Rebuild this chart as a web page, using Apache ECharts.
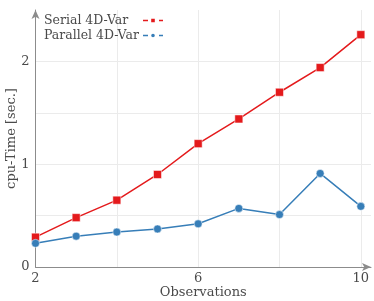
<!DOCTYPE html>
<html><head><meta charset="utf-8">
<script src="https://cdn.jsdelivr.net/npm/echarts@6/dist/echarts.min.js"></script>
<style>html,body{margin:0;padding:0;background:#fff}#c{width:374px;height:301px}</style>
</head><body><div id="c"></div>
<script>
var observations = [2, 3, 4, 5, 6, 7, 8, 9, 10];
var serial = [0.29, 0.48, 0.65, 0.90, 1.20, 1.44, 1.70, 1.94, 2.26];
var parallel = [0.23, 0.30, 0.34, 0.37, 0.42, 0.57, 0.51, 0.91, 0.59];
var xTickLabels = [2, 6, 10];
var yTickLabels = [0, 1, 2];
var seriesNames = ['Serial 4D-Var', 'Parallel 4D-Var'];

var FONT = 'DejaVu Serif';
var chart = echarts.init(document.getElementById('c'), null, {renderer: 'canvas'});
function pairs(xs, ys){ return xs.map(function(x,i){return [x, ys[i]];}); }
var axisCol = '#8c8c8c';
chart.setOption({
  animation: false,
  grid: {left: 35.5, right: 3, top: 10, bottom: 34, outerBoundsMode: 'none', containLabel: false},
  legend: {
    left: 39, top: 9, orient: 'vertical', align: 'right', itemGap: 2,
    itemWidth: 20, itemHeight: 7,
    formatter: '{t|{name}}',
    textStyle: {fontFamily: FONT, fontSize: 12.5, color: '#4a4a4a',
      rich: {t: {fontFamily: FONT, fontSize: 12.5, color: '#4a4a4a', width: 94, align: 'left'}}},
    data: [
      {name: seriesNames[0], lineStyle: {type: [5, 3], width: 1.5}},
      {name: seriesNames[1], lineStyle: {type: [5, 3], width: 1.5}}
    ]
  },
  xAxis: {
    type: 'value', min: 2, max: 10.25, interval: 2,
    name: 'Observations', nameLocation: 'middle', nameGap: 19, nameMoveOverlap: false,
    nameTextStyle: {fontFamily: FONT, fontSize: 13, color: '#4a4a4a'},
    axisLine: {show: true, lineStyle: {color: axisCol, width: 1}, symbol: ['none', 'arrow'], symbolSize: [6, 9]},
    axisTick: {show: false},
    axisLabel: {fontFamily: FONT, fontSize: 13, color: '#4a4a4a', margin: 5,
      formatter: function(v){ return xTickLabels.indexOf(v) >= 0 ? String(v) : ''; }},
    splitLine: {show: true, showMinLine: false, showMaxLine: false, lineStyle: {color: '#ebebeb', width: 1}}
  },
  yAxis: {
    type: 'value', min: 0, max: 2.5, interval: 0.5,
    name: 'cpu-Time [sec.]', nameLocation: 'middle', nameGap: 17, nameRotate: 90, nameMoveOverlap: false,
    nameTextStyle: {fontFamily: FONT, fontSize: 13, color: '#4a4a4a'},
    axisLine: {show: true, lineStyle: {color: axisCol, width: 1}, symbol: ['none', 'arrow'], symbolSize: [6, 9]},
    axisTick: {show: false},
    axisLabel: {fontFamily: FONT, fontSize: 13, color: '#4a4a4a', margin: 6,
      formatter: function(v){ return yTickLabels.indexOf(v) >= 0 ? String(v) : ''; }},
    splitLine: {show: true, showMinLine: false, showMaxLine: false, lineStyle: {color: '#ebebeb', width: 1}}
  },
  series: [
    {name: seriesNames[0], type: 'line', data: pairs(observations, serial),
     symbol: 'rect', symbolSize: 8, color: '#e41a1c',
     lineStyle: {width: 1.5, color: '#e41a1c'},
     itemStyle: {color: '#e41a1c', borderColor: '#fff', borderWidth: 0.5}},
    {name: seriesNames[1], type: 'line', data: pairs(observations, parallel),
     symbol: 'circle', symbolSize: 8, color: '#377eb8',
     lineStyle: {width: 1.5, color: '#377eb8'},
     itemStyle: {color: '#377eb8', borderColor: '#fff', borderWidth: 0.5}}
  ]
});
</script></body></html>
